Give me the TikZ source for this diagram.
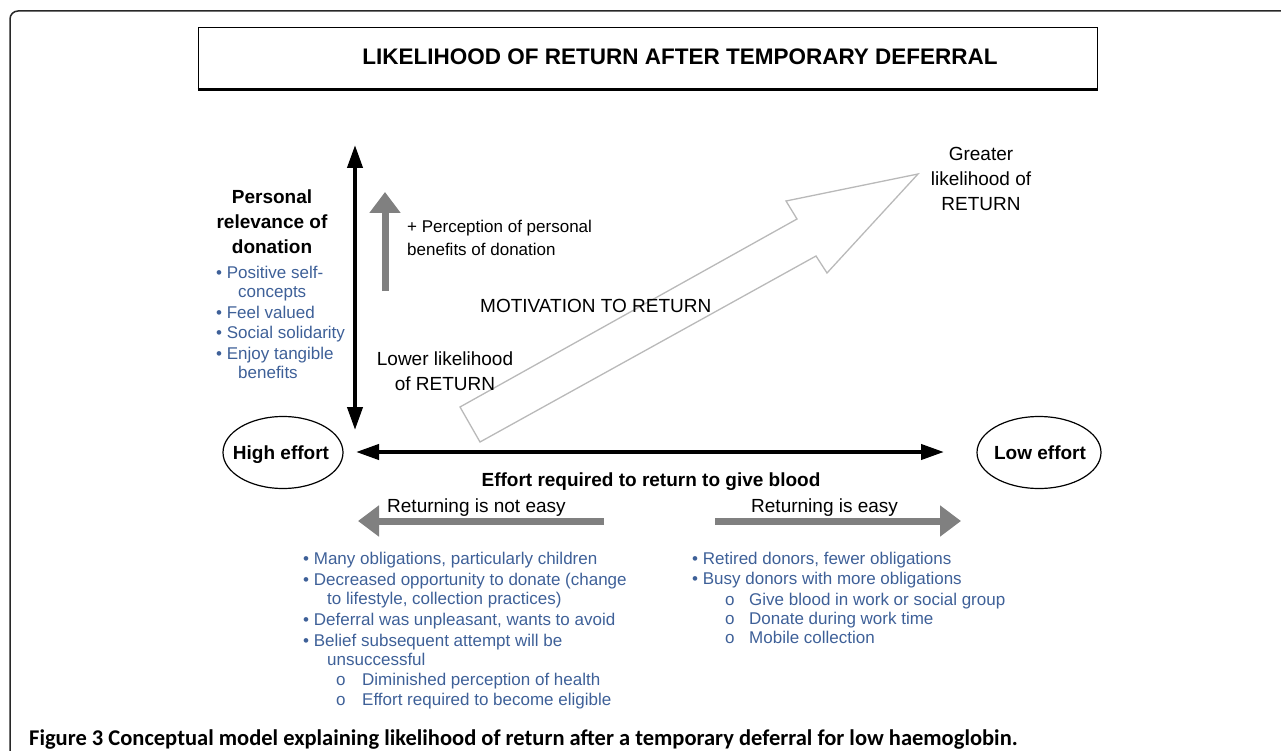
\documentclass[tikz,border=0pt]{standalone}
\usepackage{fontspec}
\setmainfont{Liberation Sans}
\newfontfamily\capfont{Carlito}
\usetikzlibrary{arrows.meta,shapes.geometric}
\definecolor{bluetxt}{RGB}{62,96,152}
\definecolor{grayarr}{RGB}{128,128,128}
\definecolor{hollowcol}{RGB}{185,185,185}
\definecolor{framecol}{RGB}{40,40,40}
\begin{document}
\begin{tikzpicture}[x=1pt,y=-1pt,
  txt/.style={inner sep=0pt, font=\fontsize{19}{25}\selectfont},
  btxt/.style={inner sep=0pt, font=\fontsize{19}{25}\selectfont\bfseries},
  stxt/.style={inner sep=0pt, font=\fontsize{17}{22}\selectfont},
  blist/.style={inner sep=0pt, anchor=base west, text=bluetxt, font=\fontsize{17}{20}\selectfont},
  blackarrow/.style={line width=4pt, {Triangle[length=23pt,width=15pt]}-{Triangle[length=23pt,width=15pt]}},
  grayarrow/.style={line width=7pt, grayarr, -{Triangle[length=21pt,width=30pt]}},
  effort/.style={draw, ellipse, line width=1.2pt, inner sep=0pt, font=\fontsize{19}{25}\selectfont\bfseries}
]
\useasboundingbox (0,0) rectangle (1281,751);
% outer frame
\draw[framecol, line width=1.5pt, rounded corners=8pt] (10,753) -- (10,11) -- (1283,11);
% title box
\node[draw, line width=1pt, minimum width=899pt, minimum height=61pt, inner sep=0pt] (titlebox) at (647.5,58.5) {};
\draw[line width=2.2pt] (titlebox.south west) -- (titlebox.south east);
\node[inner sep=0pt, anchor=base, font=\fontsize{22.5}{25}\selectfont\bfseries] (title) at (680,65) {LIKELIHOOD OF RETURN AFTER TEMPORARY DEFERRAL};

% vertical axis
\coordinate (vtop) at (355,145);
\coordinate (vbot) at (355,430);
\draw[blackarrow] (vbot) -- (vtop);

% ellipses
\node[effort, minimum width=120pt, minimum height=72pt] (high) at (283,452.5) {};
\node[btxt, anchor=base] (hightxt) at (281,459) {High effort};
\node[effort, minimum width=124pt, minimum height=72pt] (low) at (1039,452.5) {};
\node[btxt, anchor=base] (lowtxt) at (1040,459) {Low effort};

% horizontal axis
\coordinate (hl) at (356,452);
\coordinate (hr) at (944,452);
\draw[blackarrow] (hl) -- (hr);

% left label
\node[btxt, anchor=base] (pr1) at (272,204) {Personal};
\node[btxt, anchor=base] (pr2) at (272,229) {relevance of};
\node[btxt, anchor=base] (pr3) at (272,254) {donation};
\node[blist] (l1) at (216,278) {• Positive self-};
\node[blist] (l2) at (238,297) {concepts};
\node[blist] (l3) at (216,318) {• Feel valued};
\node[blist] (l4) at (216,338) {• Social solidarity};
\node[blist] (l5) at (216,359) {• Enjoy tangible};
\node[blist] (l6) at (238,378) {benefits};

% up gray arrow
\coordinate (ua) at (385,291);
\coordinate (ub) at (385,192);
\draw[grayarrow] (ua) -- (ub);
\node[stxt, anchor=base west] (perc1) at (407,233) {+ Perception of personal};
\node[stxt, anchor=base west] (perc2) at (407,255) {benefits of donation};

% hollow arrow
\draw[hollowcol, line width=1.3pt, line join=miter] (460,407) -- (797,219) -- (786,201) -- (918,174) -- (827,273) -- (816,256) -- (480,442) -- cycle;
\node[txt, anchor=base west] (motiv) at (480,312) {MOTIVATION TO RETURN};
\node[txt, anchor=base] (low1) at (445,365) {Lower likelihood};
\node[txt, anchor=base] (low2) at (445,390) {of RETURN};
\node[txt, anchor=base] (gr1) at (981,161) {Greater};
\node[txt, anchor=base] (gr2) at (981,186) {likelihood of};
\node[txt, anchor=base] (gr3) at (981,211) {RETURN};

% effort label
\node[btxt, anchor=base] (efflab) at (651,486) {Effort required to return to give blood};
\node[txt, anchor=base west] (noteasy) at (387,512) {Returning is not easy};
\node[txt, anchor=base west] (easy) at (751,512) {Returning is easy};
\coordinate (gl1) at (604,521);
\coordinate (gl2) at (358,521);
\draw[grayarrow] (gl1) -- (gl2);
\coordinate (gr1c) at (715,521);
\coordinate (gr2c) at (961,521);
\draw[grayarrow] (gr1c) -- (gr2c);

% bottom left list
\node[blist] (b1) at (303,564) {• Many obligations, particularly children};
\node[blist] (b2) at (303,585) {• Decreased opportunity to donate (change};
\node[blist] (b3) at (327,604) {to lifestyle, collection practices)};
\node[blist] (b4) at (303,625) {• Deferral was unpleasant, wants to avoid};
\node[blist] (b5) at (303,646) {• Belief subsequent attempt will be};
\node[blist] (b6) at (327,665) {unsuccessful};
\node[blist] (b7) at (336,685) {\makebox[26pt][l]{o}Diminished perception of health};
\node[blist] (b8) at (336,705) {\makebox[26pt][l]{o}Effort required to become eligible};

% bottom right list
\node[blist] (r1) at (692,564) {• Retired donors, fewer obligations};
\node[blist] (r2) at (692,584) {• Busy donors with more obligations};
\node[blist] (r3) at (725,605) {\makebox[24pt][l]{o}Give blood in work or social group};
\node[blist] (r4) at (725,624) {\makebox[24pt][l]{o}Donate during work time};
\node[blist] (r5) at (725,643) {\makebox[24pt][l]{o}Mobile collection};

% caption
\node[inner sep=0pt, anchor=base west, font=\capfont\fontsize{22.5}{24}\selectfont\bfseries] (caption) at (29,745) {Figure 3 Conceptual model explaining likelihood of return after a temporary deferral for low haemoglobin.};
\end{tikzpicture}
\end{document}
